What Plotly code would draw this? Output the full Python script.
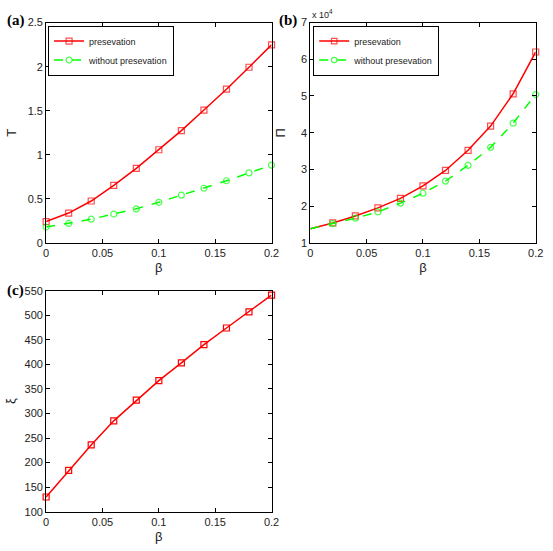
import plotly.graph_objects as go

beta = [0, 0.02, 0.04, 0.06, 0.08, 0.10, 0.12, 0.14, 0.16, 0.18, 0.20]

# Panel (a): T
T_pres = [0.24, 0.337, 0.474, 0.652, 0.844, 1.056, 1.274, 1.507, 1.744, 1.993, 2.248]
T_nopres = [0.178, 0.219, 0.267, 0.326, 0.385, 0.459, 0.541, 0.619, 0.704, 0.793, 0.881]

# Panel (b): Pi (x 10^4)
Pi_pres = [1.38, 1.54, 1.73, 1.95, 2.21, 2.55, 2.97, 3.52, 4.18, 5.06, 6.20]
Pi_nopres = [1.38, 1.52, 1.67, 1.84, 2.08, 2.35, 2.68, 3.11, 3.60, 4.26, 5.04]

# Panel (c): xi
xi = [130, 184, 236, 285, 327, 367, 403, 440, 474, 507, 541]

RED = "rgb(255,0,0)"
GREEN = "rgb(0,255,0)"
FONT = "Liberation Sans, Arial, sans-serif"

fig = go.Figure()

def add_pair(xa, ya, y1, y2, legend, show_first_marker=True):
    sizes = [6] * len(beta)
    if not show_first_marker:
        sizes[0] = 0
    fig.add_trace(go.Scatter(x=beta, y=y1, mode="lines+markers", name="presevation",
                             line=dict(color=RED, width=1.5),
                             marker=dict(symbol="square-open", size=sizes, color=RED, line=dict(width=1.2)),
                             xaxis=xa, yaxis=ya, legend=legend, cliponaxis=False))
    fig.add_trace(go.Scatter(x=beta, y=y2, mode="lines+markers", name="without presevation",
                             line=dict(color=GREEN, width=1.5, dash="dash"),
                             marker=dict(symbol="circle-open", size=sizes, color=GREEN, line=dict(width=1.2)),
                             xaxis=xa, yaxis=ya, legend=legend, cliponaxis=False))

add_pair("x", "y", T_pres, T_nopres, "legend")
add_pair("x2", "y2", Pi_pres, Pi_nopres, "legend2", show_first_marker=False)
fig.add_trace(go.Scatter(x=beta, y=xi, mode="lines+markers", name="xi", showlegend=False,
                         line=dict(color=RED, width=1.5),
                         marker=dict(symbol="square-open", size=6, color=RED, line=dict(width=1.2)),
                         xaxis="x3", yaxis="y3", cliponaxis=False))

xa_dom = [44 / 553, 274 / 553]
xb_dom = [313.5 / 553, 543.5 / 553]
ytop_dom = [1 - 242 / 551, 1 - 17 / 551]
ybot_dom = [1 - 517 / 551, 1 - 291 / 551]

axis_common = dict(showline=True, linecolor="black", linewidth=1, mirror="ticks",
                   ticks="inside", ticklen=4, tickcolor="black", showgrid=False, zeroline=False,
                   tickfont=dict(family=FONT, size=11, color="#222"))

def xax(dom, anchor):
    return dict(axis_common, domain=dom, anchor=anchor, range=[0, 0.2], dtick=0.05, tick0=0,
                title=dict(text="β", font=dict(family=FONT, size=13, color="#222"), standoff=4))

def yax(dom, anchor, rng, dt, title, standoff):
    return dict(axis_common, domain=dom, anchor=anchor, range=rng, dtick=dt, tick0=rng[0],
                title=dict(text=title, font=dict(family=FONT, size=13, color="#222"), standoff=standoff))

legend_style = dict(xanchor="left", yanchor="top", bgcolor="white", bordercolor="black",
                    borderwidth=1, font=dict(family=FONT, size=9, color="#222"),
                    tracegroupgap=0, itemwidth=30)

fig.update_layout(
    width=553, height=551,
    margin=dict(l=0, r=0, t=0, b=0),
    paper_bgcolor="white", plot_bgcolor="white",
    xaxis=xax(xa_dom, "y"),
    yaxis=yax(ytop_dom, "x", [0, 2.5], 0.5, "T", 8),
    xaxis2=xax(xb_dom, "y2"),
    yaxis2=yax(ytop_dom, "x2", [1, 7], 1, "Π", 12),
    xaxis3=xax(xa_dom, "y3"),
    yaxis3=yax(ybot_dom, "x3", [100, 550], 50, "ξ", 6),
    legend=dict(legend_style, x=46 / 553, y=1 - 20 / 551),
    legend2=dict(legend_style, x=316.5 / 553, y=1 - 20 / 551),
    annotations=[
        dict(text="<b>(a)</b>", x=2 / 553, y=1 - 15 / 551, xref="paper", yref="paper",
             xanchor="left", yanchor="middle", showarrow=False,
             font=dict(family="Liberation Serif, Times New Roman, serif", size=15, color="black")),
        dict(text="<b>(b)</b>", x=280 / 553, y=1 - 15 / 551, xref="paper", yref="paper",
             xanchor="left", yanchor="middle", showarrow=False,
             font=dict(family="Liberation Serif, Times New Roman, serif", size=15, color="black")),
        dict(text="<b>(c)</b>", x=2 / 553, y=1 - 291 / 551, xref="paper", yref="paper",
             xanchor="left", yanchor="middle", showarrow=False,
             font=dict(family="Liberation Serif, Times New Roman, serif", size=15, color="black")),
        dict(text="x 10<sup>4</sup>", x=313 / 553, y=1 - 8 / 551, xref="paper", yref="paper",
             xanchor="left", yanchor="middle", showarrow=False,
             font=dict(family=FONT, size=9, color="#222")),
    ],
)

fig.write_html("out.html", config={"displayModeBar": False},
               post_script="document.body.style.margin='0';document.body.style.overflow='hidden';")
